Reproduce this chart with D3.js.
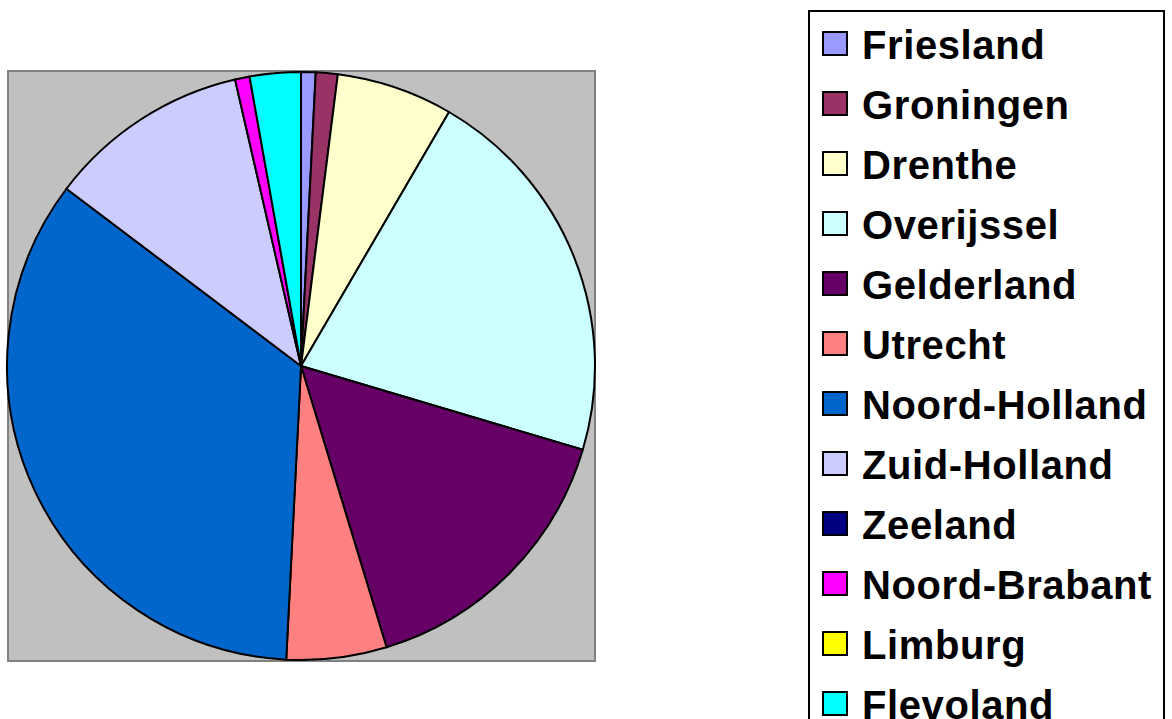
<!DOCTYPE html>
<html>
<head>
<meta charset="utf-8">
<script src="https://cdn.jsdelivr.net/npm/d3@7"></script>
<style>
 body { margin: 0; background: #fff; }
 svg { display: block; }
</style>
</head>
<body>
<div id="chart"></div>
<script>
// provinces, clockwise from 12 o'clock
var provinces = ["Friesland", "Groningen", "Drenthe", "Overijssel", "Gelderland", "Utrecht",
 "Noord-Holland", "Zuid-Holland", "Zeeland", "Noord-Brabant", "Limburg", "Flevoland"];
var shares = [0.8, 1.2, 6.4, 21.2, 15.7, 5.5, 34.5, 11.1, 0, 0.8, 0, 2.8];
var colors = ["#9999ff", "#993366", "#ffffcc", "#ccffff", "#660066", "#ff8080",
 "#0066cc", "#ccccff", "#000080", "#ff00ff", "#ffff00", "#00ffff"];

var w = 1172, h = 719;
var svg = d3.select("#chart").append("svg").attr("width", w).attr("height", h);

// plot area
svg.append("rect")
 .attr("x", 8).attr("y", 71)
 .attr("width", 587).attr("height", 590)
 .attr("fill", "#c0c0c0")
 .attr("stroke", "#808080")
 .attr("stroke-width", 2);

var data = provinces.map(function(p, i){
 return {name: p, value: shares[i], color: colors[i]};
});

var pie = d3.pie().sort(null).value(function(d){ return d.value; });
var arc = d3.arc().innerRadius(0).outerRadius(294);

var g = svg.append("g").attr("transform", "translate(301,366)");
g.selectAll("path")
 .data(pie(data).filter(function(d){ return d.data.value > 0; }))
 .enter()
 .append("path")
 .attr("d", arc)
 .attr("fill", function(d){ return d.data.color; })
 .attr("stroke", "#000")
 .attr("stroke-width", 2)
 .attr("stroke-linejoin", "round");

// legend (runs off the bottom of the picture)
var leg = svg.append("g");
leg.append("rect")
 .attr("x", 809).attr("y", 11)
 .attr("width", 355).attr("height", 740)
 .attr("fill", "#fff")
 .attr("stroke", "#000")
 .attr("stroke-width", 2);

var item = leg.selectAll("g.item")
 .data(data)
 .enter()
 .append("g")
 .attr("class", "item")
 .attr("transform", function(d, i){ return "translate(0," + (i * 60) + ")"; });

item.append("rect")
 .attr("x", 823).attr("y", 32)
 .attr("width", 24).attr("height", 23)
 .attr("fill", function(d){ return d.color; })
 .attr("stroke", "#000")
 .attr("stroke-width", 2);

item.append("text")
 .attr("x", 862).attr("y", 59)
 .attr("font-family", "'Liberation Sans', Arial, sans-serif")
 .attr("font-weight", "bold")
 .attr("font-size", "40px")
 .attr("letter-spacing", "0.6px")
 .attr("fill", "#000")
 .text(function(d){ return d.name; });
</script>
</body>
</html>
